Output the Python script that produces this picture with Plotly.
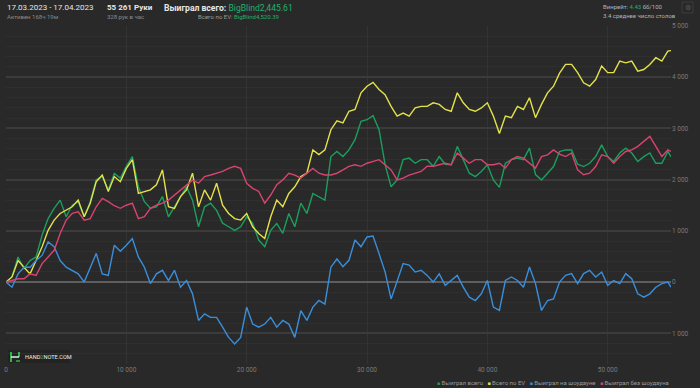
import plotly.graph_objects as go

# ---------------- data ----------------
hands = list(range(0, 55001, 500)) + [55261]

won_total = [0,100,490,260,420,490,915,1240,1440,1600,
1275,1500,1570,1275,1570,2000,2060,1800,2120,2030,
2260,2450,1860,1570,1440,1470,1670,1275,1470,1670,
1860,1600,1080,1470,1540,1400,1150,1080,1010,1080,
1275,1145,820,690,1010,1145,950,1340,1080,1540,
1340,1730,1670,1600,2450,2550,2450,2580,2780,3140,
3170,3250,2975,2300,1860,1995,2390,2420,2320,2390,
2390,2260,2450,2300,2290,2650,2390,2125,2060,2160,
2290,1995,1850,2320,2390,2420,2390,2615,2100,1995,
2125,2255,2550,2580,2580,2300,2255,2320,2450,2680,
2450,2355,2520,2615,2520,2355,2450,2520,2320,2320,
2550,2446]

ev_total = [0,100,420,290,160,420,690,1010,1210,1340,
1400,1470,1600,1275,1540,1960,2090,1770,2060,1960,
2220,2390,1730,1770,1800,1900,2190,1470,1440,1670,
1800,2125,1470,1800,1600,1930,1500,1340,1240,1210,
1340,1080,950,850,1275,1600,1470,1730,1860,2060,
2125,2580,2490,2580,2975,3150,3110,3335,3370,3695,
3825,3900,3760,3660,3430,3240,3300,3240,3400,3430,
3430,3500,3470,3370,3335,3695,3500,3370,3335,3400,
3500,3240,2900,3240,3210,3430,3370,3600,3210,3470,
3695,3825,4080,4250,4250,4090,3890,3825,3955,4220,
4090,4090,4315,4280,4315,4120,4150,4250,4380,4315,
4510,4520]

showdown = [0,-100,160,290,290,420,520,785,690,420,
290,230,160,0,290,560,160,130,720,600,
720,850,490,290,-30,160,230,30,230,-100,
30,-230,-750,-620,-690,-690,-880,-1080,-1210,-1080,
-490,-820,-880,-820,-690,-880,-750,-820,-1080,-560,
-750,-490,-360,-430,290,450,300,425,820,690,
880,900,555,200,-330,0,360,330,195,230,
130,0,160,-65,30,130,-100,-295,-360,-230,
30,-490,-555,30,100,30,-100,295,-30,-555,
-360,-330,0,130,165,-30,165,230,100,195,
-65,30,-30,165,65,-230,-295,-230,-100,-30,
0,-100]

non_showdown = [0,30,65,65,160,130,360,490,620,950,
1210,1340,1370,1210,1240,1470,1635,1570,1490,1440,
1500,1540,1240,1275,1440,1500,1540,1600,1700,1800,
1900,1990,1930,2060,2090,2125,2160,2220,2260,2220,
1930,1830,1770,1540,1700,1900,1995,2125,2090,2030,
2125,2220,2125,2090,2090,2125,2190,2260,2290,2260,
2320,2355,2390,2290,2190,1995,2030,2090,2125,2160,
2260,2260,2290,2320,2290,2520,2420,2320,2390,2390,
2290,2290,2320,2225,2390,2450,2420,2320,2225,2450,
2485,2580,2500,2450,2520,2190,2095,2125,2255,2485,
2450,2320,2450,2550,2580,2650,2745,2845,2650,2450,
2580,2550]

series_names = ["Выиграл всего", "Всего по EV", "Выиграл на шоудауне", "Выиграл без шоудауна"]
series_colors = ["#1b9e5e", "#e4e24a", "#3a8edb", "#d8436f"]

x_tickvals = [0, 10000, 20000, 30000, 40000, 50000]
x_ticktext = ["0", "10 000", "20 000", "30 000", "40 000", "50 000"]
y_tickvals = [-1000, 0, 1000, 2000, 3000, 4000, 5000]
y_ticktext = ["1 000", "0", "1 000", "2 000", "3 000", "4 000", "5 000"]

# ---------------- layout helpers ----------------
W, H = 700, 388
L, R, T, B = 6, 29, 26, 24
PW, PH = W - L - R, H - T - B
BG = "#292929"
FONT = "Roboto"


def px2x(px):
    return (px - L) / PW


def py2y(py):
    return (H - B - py) / PH


fig = go.Figure()
values = [won_total, ev_total, showdown, non_showdown]
for name, col, vals in zip(series_names, series_colors, values):
    fig.add_trace(go.Scatter(x=hands, y=vals, mode="lines", name=name,
                             line=dict(color=col, width=1.4), showlegend=False,
                             hoverinfo="skip"))

ann = []


def text(px, py, s, size, color="#e6e6e6", anchor="left"):
    ann.append(dict(x=px2x(px), y=py2y(py), xref="paper", yref="paper", text=s,
                    showarrow=False, xanchor=anchor, yanchor="middle",
                    font=dict(family=FONT, size=size, color=color)))


G = "#23b06c"
text(5, 7.5, "17.03.2023 - 17.04.2023", 8.0)
text(5, 16.5, "Активен 168ч 19м", 6, "#8a8a8a")
text(105, 7.5, "<b>55 261 Руки</b>", 8.0)
text(105, 16.5, "328 рук в час", 6, "#8a8a8a")
text(162, 7.5, f"<b>Выиграл всего:</b> <span style='color:{G}'>BigBlind2,445.61</span>", 8.6)
text(196, 16.5, f"Всего по EV: <span style='color:{G}'>BigBlind4,520.39</span>", 6.0, "#9a9a9a")
text(601, 6.3, f"Винрейт: <span style='color:{G}'>4.43</span> бб/100", 6, "#b5b5b5")
text(601, 15.3, "3.4 среднее число столов", 6, "#b5b5b5")
text(687.5, 7.5, "⚙", 7, "#5a5a5a", anchor="center")

# legend row
leg_parts = []
for name, col in zip(series_names, series_colors):
    leg_parts.append(f"<span style='color:{col};font-size:5px'>■</span> {name}")
ann.append(dict(x=1.0, y=py2y(382), xref="paper", yref="paper",
                text="   ".join(leg_parts), showarrow=False, xanchor="right",
                yanchor="middle", font=dict(family=FONT, size=6.0, color="#9a9a9a")))

# logo text
text(22.5, 356.5, "HAND<span style='color:#2fb34a'>2</span>NOTE.COM", 5.6, "#f0f0f0")

shapes = [
    dict(type="rect", xref="paper", yref="paper", x0=px2x(8), x1=px2x(70),
         y0=py2y(363), y1=py2y(350), fillcolor="#232323", line=dict(width=0), layer="below"),
    dict(type="line", xref="paper", yref="paper", x0=px2x(11), x1=px2x(11),
         y0=py2y(352), y1=py2y(362), line=dict(color="#2fb34a", width=2)),
    dict(type="line", xref="paper", yref="paper", x0=px2x(19), x1=px2x(19),
         y0=py2y(352), y1=py2y(357), line=dict(color="#2fb34a", width=2)),
    dict(type="line", xref="paper", yref="paper", x0=px2x(11), x1=px2x(19),
         y0=py2y(357), y1=py2y(357), line=dict(color="#e8e8e8", width=1.5)),
    dict(type="line", xref="paper", yref="paper", x0=px2x(16), x1=px2x(20),
         y0=py2y(361), y1=py2y(361), line=dict(color="#2fb34a", width=1.5)),
    dict(type="rect", xref="paper", yref="paper", x0=px2x(682), x1=px2x(693),
         y0=py2y(13), y1=py2y(2), fillcolor="rgba(0,0,0,0)",
         line=dict(color="#3c3c3c", width=1)),
]

fig.update_layout(
    width=W, height=H,
    margin=dict(l=L, r=R, t=T, b=B, pad=0, autoexpand=False),
    paper_bgcolor=BG, plot_bgcolor=BG,
    showlegend=False,
    annotations=ann, shapes=shapes,
    font=dict(family=FONT, color="#7a7a7a", size=6.5),
    xaxis=dict(range=[0, 55261], tickvals=x_tickvals, ticktext=x_ticktext,
               automargin=False,
               showgrid=True, gridcolor="#333333", gridwidth=1,
               zeroline=False, showline=False, ticks="",
               tickfont=dict(size=6.5, color="#7a7a7a")),
    yaxis=dict(range=[-1600, 5000], side="right", tickvals=y_tickvals, ticktext=y_ticktext,
               automargin=False,
               showgrid=True, gridcolor="#3b3b3b", gridwidth=1.5,
               minor=dict(dtick=200, tick0=0, showgrid=True, gridcolor="#2f2f2f", gridwidth=1),
               zeroline=True, zerolinecolor="#5e5e5e", zerolinewidth=2,
               showline=False, ticks="", tickfont=dict(size=6.5, color="#7a7a7a")),
)

fig.write_html("out.html", config={"displayModeBar": False},
               post_script="document.body.style.margin='0';document.body.style.background='#292929';")
